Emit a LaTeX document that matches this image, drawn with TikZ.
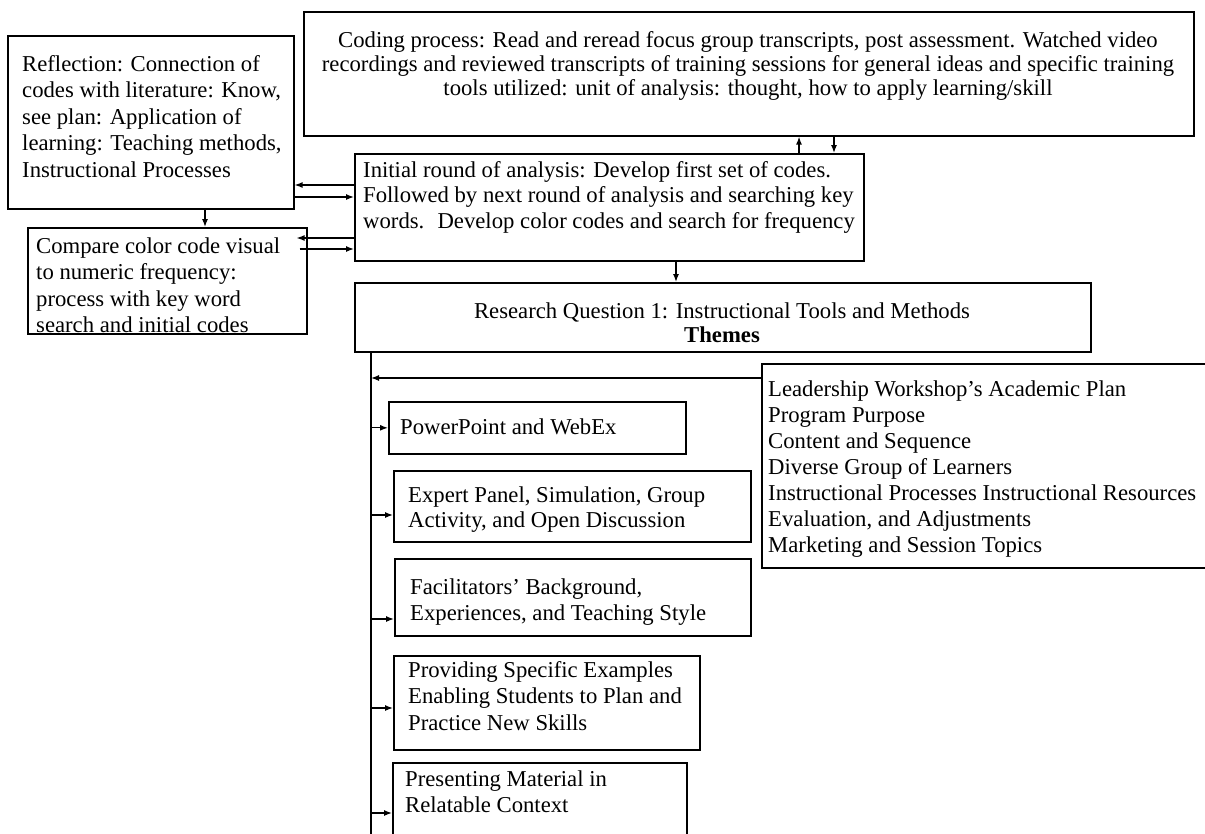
\documentclass[tikz,border=0pt]{standalone}
\usepackage{fontspec}
\setmainfont{Liberation Serif}
\usetikzlibrary{arrows.meta}
\begin{document}
\begin{tikzpicture}[x=1pt,y=-1pt,
  box/.style={draw, line width=1.6pt, anchor=north west, inner sep=0pt},
  txt/.style={inner sep=0pt, anchor=north west, align=left, font=\fontsize{22.7}{#1}\selectfont},
  txt/.default=26.5,
  ctxt/.style={inner sep=0pt, anchor=north, align=center, font=\fontsize{22.7}{#1}\selectfont},
  ctxt/.default=24,
  arr/.style={-{Latex[length=8pt,width=6pt]}, line width=1.3pt},
  ln/.style={line width=1.3pt}
]
\useasboundingbox (0,0) rectangle (1205,833);
\fill[white] (0,0) rectangle (1205,833);
\clip (0,0) rectangle (1205,833);

% boxes
\node[box, minimum width=286pt, minimum height=173pt] (refl) at (7,35) {};
\node[box, minimum width=890pt, minimum height=124pt] (code) at (303,11) {};
\node[box, minimum width=509pt, minimum height=107pt] (init) at (354,153) {};
\node[box, minimum width=279pt, minimum height=106pt] (comp) at (27,227) {};
\node[box, minimum width=736pt, minimum height=69pt] (rq) at (354,282) {};
\node[box, minimum width=445pt, minimum height=204pt] (lead) at (761,363) {};
\node[box, minimum width=297pt, minimum height=52pt] (ppt) at (388,401) {};
\node[box, minimum width=357pt, minimum height=71pt] (exp) at (393,470) {};
\node[box, minimum width=356pt, minimum height=77pt] (fac) at (394,558) {};
\node[box, minimum width=306pt, minimum height=94pt] (prov) at (393,655) {};
\node[box, minimum width=294pt, minimum height=90pt] (pres) at (392,762) {};

% texts
\node[txt] (treflection) at (22,52.45) {\strut Reflection: Connection of\\codes with literature: Know,\\see plan: Application of\\learning: Teaching methods,\\Instructional Processes};
\node[ctxt=24] (tcode) at (748,30.2) {\strut Coding process: Read and reread focus group transcripts, post assessment. Watched video\\recordings and reviewed transcripts of training sessions for general ideas and specific training\\tools utilized: unit of analysis: thought, how to apply learning/skill};
\node[txt=25.5] (tinit) at (363,159.15) {\strut Initial round of analysis: Develop first set of codes.\\Followed by next round of analysis and searching key\\words.~ Develop color codes and search for frequency};
\node[txt] (tcomp) at (36,234.45) {\strut Compare color code visual\\to numeric frequency:\\process with key word\\search and initial codes};
\node[ctxt=24] (trq) at (722,301.2) {\strut Research Question 1: Instructional Tools and Methods\\\textbf{Themes}};
\node[txt=26] (tlead) at (768,377.8) {\strut Leadership Workshop’s Academic Plan\\Program Purpose\\Content and Sequence\\Diverse Group of Learners\\Instructional Processes Instructional Resources\\Evaluation, and Adjustments\\Marketing and Session Topics};
\node[txt] (tppt) at (400,415.45) {\strut PowerPoint and WebEx};
\node[txt=25] (texp) at (408,484.5) {\strut Expert Panel, Simulation, Group\\Activity, and Open Discussion};
\node[txt=26] (tfac) at (410,575.8) {\strut Facilitators’ Background,\\Experiences, and Teaching Style};
\node[txt] (tprov) at (408,658.45) {\strut Providing Specific Examples\\Enabling Students to Plan and\\Practice New Skills};
\node[txt=26] (tpres) at (405,767.8) {\strut Presenting Material in\\Relatable Context};

% connectors
\coordinate (r1) at ([xshift=198pt]refl.south west);
\draw[arr] (r1) -- (r1 |- comp.north);
\draw[arr] (init.west |- 0,185) -- (refl.east |- 0,185);
\draw[arr] (refl.east |- 0,197) -- (init.west |- 0,197);
\coordinate (c1) at ([xshift=-11pt]comp.east);
\coordinate (c2) at ([xshift=-8pt]comp.east);
\draw[arr] (init.west |- 0,238) -- (c1 |- 0,238);
\draw[arr] (c2 |- 0,249) -- (init.west |- 0,249);
\draw[arr] (799,0 |- init.north) -- (799,0 |- code.south);
\draw[arr] (834,0 |- code.south) -- (834,0 |- init.north);
\draw[arr] (676,0 |- init.south) -- (676,0 |- rq.north);

\coordinate (vtop) at (371,0 |- rq.south);
\coordinate (vend) at (371,845);
\draw[ln] (vtop) -- (vend);
\draw[arr] (lead.west |- 0,378) -- (vtop |- 0,378);
\draw[arr] (vtop |- ppt.west) -- (ppt.west);
\draw[arr] (vtop |- 0,515) -- (exp.west |- 0,515);
\draw[arr] (vtop |- 0,619) -- (fac.west |- 0,619);
\draw[arr] (vtop |- 0,708) -- (prov.west |- 0,708);
\draw[arr] (vtop |- 0,813) -- (pres.west |- 0,813);
\end{tikzpicture}
\end{document}
